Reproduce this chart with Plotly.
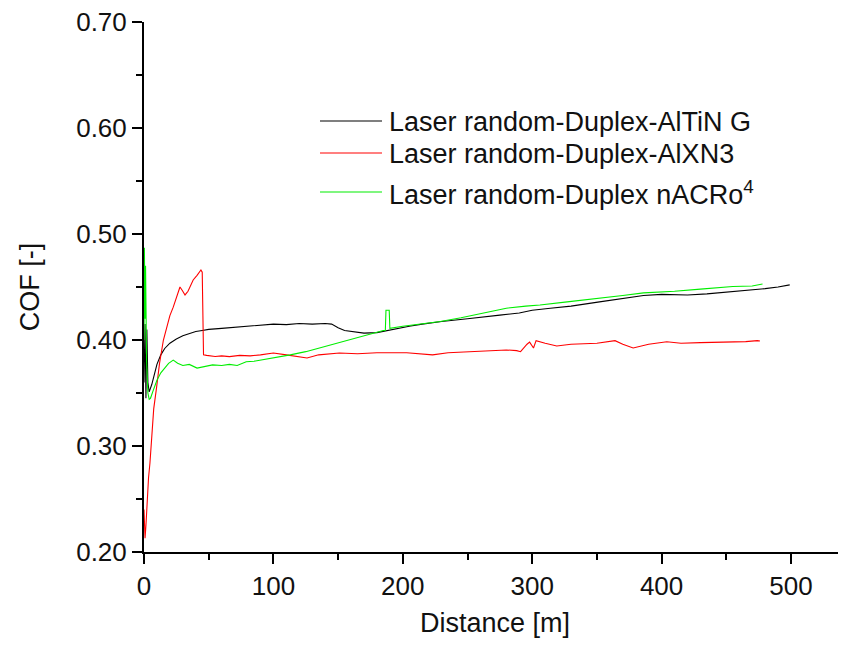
import plotly.graph_objects as go

# ---------------- data ----------------
black_x = [0, 0.8, 1.5, 2.2, 3, 4, 6, 8, 10, 13, 16, 20, 25, 30, 35, 40, 45, 50, 60, 70, 80, 90, 100,
           110, 120, 130, 140, 145, 150, 155, 160, 170, 180, 188, 195, 205, 215, 230, 250, 265, 275,
           290, 300, 314, 330, 352, 370, 386, 400, 420, 435, 450, 468, 480, 490, 499]
black_y = [0.36, 0.415, 0.345, 0.41, 0.36, 0.351, 0.358, 0.368, 0.377, 0.386, 0.392, 0.397, 0.401,
           0.404, 0.406, 0.408, 0.409, 0.410, 0.411, 0.412, 0.413, 0.4135, 0.415, 0.4145, 0.4155,
           0.415, 0.4155, 0.415, 0.4115, 0.409, 0.408, 0.4065, 0.407, 0.409, 0.411, 0.413, 0.415,
           0.4175, 0.420, 0.4225, 0.4235, 0.4255, 0.428, 0.430, 0.432, 0.436, 0.439, 0.442, 0.443,
           0.4425, 0.4435, 0.445, 0.447, 0.4485, 0.450, 0.452]

red_x = [0, 0.8, 1.5, 2.5, 3.5, 4.6, 6, 7.5, 9.8, 12, 15, 18, 20, 22.6, 25, 27.8, 29.5, 31.7, 34, 38,
         41, 44, 45, 45.5, 46, 48.4, 55, 60, 66, 74, 82, 90, 100, 110, 120, 126, 135, 151, 165, 180,
         203, 215, 223, 235, 254, 265, 275, 280, 288, 291, 296, 298, 301, 303, 310, 319, 330, 339,
         350, 364, 370, 378, 390, 404, 415, 430, 445, 455, 465, 474, 476]
red_y = [0.24, 0.213, 0.225, 0.25, 0.27, 0.284, 0.31, 0.335, 0.356, 0.378, 0.40, 0.415, 0.423, 0.431,
         0.440, 0.450, 0.447, 0.4425, 0.446, 0.4566, 0.461, 0.466, 0.464, 0.42, 0.386, 0.3855,
         0.3845, 0.385, 0.3843, 0.3855, 0.385, 0.386, 0.3877, 0.386, 0.384, 0.383, 0.386, 0.3877,
         0.387, 0.388, 0.388, 0.387, 0.386, 0.388, 0.389, 0.3895, 0.3906, 0.3906, 0.390, 0.389,
         0.396, 0.398, 0.3925, 0.3994, 0.397, 0.3943, 0.396, 0.3962, 0.397, 0.3994, 0.396, 0.3925,
         0.396, 0.3984, 0.397, 0.3975, 0.398, 0.398, 0.3985, 0.3994, 0.399]

green_x = [0, 0.3, 0.8, 1.2, 2, 3, 4, 5, 7, 10, 13, 16, 19, 22.6, 26, 30, 35, 41, 47, 53, 60, 66, 72,
           79, 85, 95, 105, 113, 125, 140, 151, 165, 175, 185, 186.5, 187, 189.5, 190, 200, 215, 229,
           245, 260, 280, 295, 306, 327, 350, 370, 386, 410, 430, 455, 470, 478]
green_y = [0.40, 0.487, 0.42, 0.47, 0.38, 0.35, 0.344, 0.345, 0.352, 0.362, 0.369, 0.374, 0.378, 0.381,
           0.378, 0.376, 0.377, 0.3735, 0.375, 0.3765, 0.376, 0.377, 0.376, 0.3795, 0.380, 0.382,
           0.384, 0.386, 0.389, 0.394, 0.398, 0.403, 0.406, 0.409, 0.409, 0.428, 0.428, 0.411, 0.413,
           0.415, 0.4175, 0.421, 0.425, 0.430, 0.432, 0.433, 0.436, 0.439, 0.442, 0.4445, 0.446,
           0.448, 0.4505, 0.451, 0.4528]

series_names = ["Laser random-Duplex-AlTiN G",
                "Laser random-Duplex-AlXN3",
                "Laser random-Duplex nACRo<sup>4</sup>"]
series_colors = ["#000000", "#ff0000", "#00ee00"]

x_ticks = [0, 100, 200, 300, 400, 500]
y_ticks = [0.20, 0.30, 0.40, 0.50, 0.60, 0.70]
y_tick_labels = ["0.20", "0.30", "0.40", "0.50", "0.60", "0.70"]

# ---------------- figure ----------------
OFF = 8  # default page body margin
W, H = 846 - OFF, 646 - 2 * OFF
PL, PR, PT, PB = 144, 846, 22, 552   # plot area in window pixels
L, R, T, B = PL - OFF, 0, PT - OFF, H - (PB - OFF)
FONT = "Liberation Sans, Arial, sans-serif"
TXT = "#111111"

fig = go.Figure()
for xs, ys, name, col in [(black_x, black_y, series_names[0], series_colors[0]),
                          (red_x, red_y, series_names[1], series_colors[1]),
                          (green_x, green_y, series_names[2], series_colors[2])]:
    fig.add_trace(go.Scatter(x=xs, y=ys, mode="lines", name=name,
                             line=dict(color=col, width=1.1), showlegend=False))

# manual legend (window pixels -> paper)
def px2paper_x(px):
    return (px - PL) / (PR - PL)

def px2paper_y(py):
    return (PB - py) / (PB - PT)

legend_rows = [121, 153, 192]
for row, name, col in zip(legend_rows, series_names, series_colors):
    fig.add_shape(type="line", xref="paper", yref="paper",
                  x0=px2paper_x(320), x1=px2paper_x(382),
                  y0=px2paper_y(row), y1=px2paper_y(row),
                  line=dict(color=col, width=1.2))
    fig.add_annotation(xref="paper", yref="paper", x=px2paper_x(387), y=px2paper_y(row + 1),
                       text=name, showarrow=False, xanchor="left", yanchor="middle",
                       font=dict(family=FONT, size=27, color=TXT))

axis_common = dict(showline=True, linecolor="#000000", linewidth=2, ticks="outside",
                   ticklen=10, tickwidth=2, tickcolor="#000000", showgrid=False,
                   zeroline=False, mirror=False, automargin=False,
                   ticklabeloverflow="allow",
                   tickfont=dict(family=FONT, size=26, color=TXT))

fig.update_xaxes(range=[0, 542.5], tickvals=x_ticks,
                 title=dict(text="Distance [m]", font=dict(family=FONT, size=27, color=TXT),
                            standoff=17),
                 minor=dict(ticks="outside", ticklen=6, tickwidth=2, tickcolor="#000000", dtick=50),
                 **axis_common)
fig.update_yaxes(range=[0.20, 0.70], tickvals=y_ticks, ticktext=y_tick_labels,
                 title=dict(text="COF [-]", font=dict(family=FONT, size=27, color=TXT),
                            standoff=29),
                 minor=dict(ticks="outside", ticklen=6, tickwidth=2, tickcolor="#000000", dtick=0.05),
                 **axis_common)

fig.update_layout(width=W, height=H, margin=dict(l=L, r=R, t=T, b=B, autoexpand=False),
                  paper_bgcolor="white", plot_bgcolor="white", showlegend=False)

fig.write_html("out.html")
